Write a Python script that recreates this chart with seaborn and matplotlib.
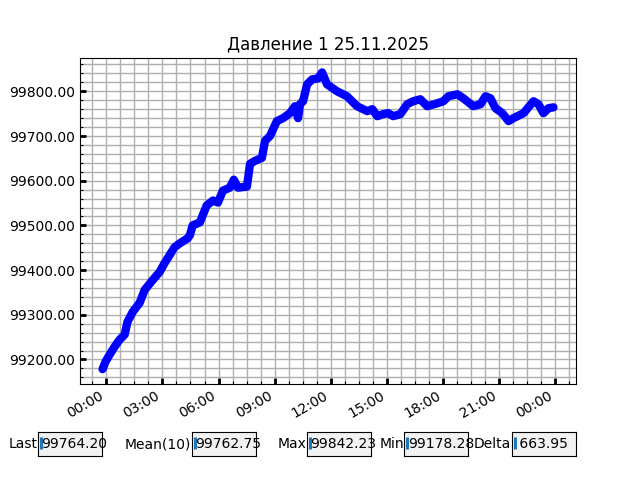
import numpy as np
import pandas as pd
import matplotlib
matplotlib.use("Agg")
import matplotlib.pyplot as plt
import matplotlib.dates as mdates
from matplotlib.ticker import MultipleLocator, FormatStrFormatter
from matplotlib.widgets import TextBox
import seaborn as sns

title = "Давление 1 25.11.2025"
day_start = "2025-11-25 00:00"

# minutes relative to 25.11.2025 00:00
minutes = [-12, -2, 11, 27, 43, 59, 68, 85, 107, 123, 149, 171, 187, 203, 219,
           236, 261, 268, 277, 300, 322, 342, 358, 374, 396, 409, 422, 451, 461,
           477, 499, 509, 525, 547, 567, 589, 605, 615, 621, 631, 644, 660, 679,
           692, 708, 740, 772, 804, 837, 853, 869, 888, 904, 920, 943, 965, 984,
           1007, 1029, 1062, 1081, 1097, 1126, 1145, 1177, 1200, 1216, 1232,
           1248, 1270, 1290, 1306, 1338, 1370, 1386, 1402, 1418, 1434]

pressure = [99178.28, 99195.6, 99211.1, 99228.9, 99244.4, 99255.6, 99284.4,
            99306.7, 99326.7, 99355.6, 99377.8, 99395.6, 99415.6, 99433.3,
            99451.1, 99460.0, 99471.1, 99477.8, 99500.0, 99506.7, 99544.4,
            99555.6, 99551.1, 99577.8, 99584.4, 99602.2, 99584.4, 99586.7,
            99637.8, 99644.4, 99651.1, 99688.9, 99700.0, 99733.3, 99740.0,
            99751.1, 99766.7, 99740.0, 99771.1, 99777.8, 99815.6, 99826.7,
            99828.9, 99842.23, 99815.6, 99800.0, 99788.9, 99766.7, 99755.6,
            99760.0, 99744.4, 99748.9, 99751.1, 99744.4, 99748.9, 99771.1,
            99777.8, 99782.2, 99766.7, 99773.3, 99777.8, 99788.9, 99793.3,
            99784.4, 99766.7, 99771.1, 99788.9, 99784.4, 99762.2, 99751.1,
            99733.3, 99740.0, 99751.1, 99777.8, 99771.1, 99751.1, 99762.2,
            99764.2]

box_labels = ["Last", "Mean(10)", "Max", "Min", "Delta"]
box_values = ["99764.20", "99762.75", "99842.23", "99178.28", " 663.95"]
box_lefts = [0.06, 0.30, 0.48, 0.632, 0.80]

times = pd.Timestamp(day_start) + pd.to_timedelta(minutes, unit="min")
df = pd.DataFrame({"time": times, "pressure": pressure})

fig = plt.figure(figsize=(6.4, 4.8), dpi=100)
ax = fig.add_axes([0.125, 0.2, 0.775, 0.68])

sns.lineplot(data=df, x="time", y="pressure", ax=ax, color="blue",
             linewidth=6, solid_capstyle="round", solid_joinstyle="round",
             sort=False)
ax.set_xlabel("")
ax.set_ylabel("")
ax.set_title(title)

ax.xaxis.set_major_locator(MultipleLocator(0.125))
ax.xaxis.set_minor_locator(MultipleLocator(1 / 32))
ax.xaxis.set_major_formatter(mdates.DateFormatter("%H:%M"))
ax.yaxis.set_major_locator(MultipleLocator(100))
ax.yaxis.set_minor_locator(MultipleLocator(20))
ax.yaxis.set_major_formatter(FormatStrFormatter("%.2f"))

ax.grid(True, which="both", color="#b0b0b0", linewidth=1)
ax.set_axisbelow(True)
ax.tick_params(which="major", direction="in", length=4, width=2)
ax.tick_params(which="minor", direction="in", length=2, width=0.8)
for lbl in ax.get_xticklabels():
    lbl.set_rotation(30)
    lbl.set_ha("right")

boxes = []
for lab, val, left in zip(box_labels, box_values, box_lefts):
    bax = fig.add_axes([left, 0.05, 0.1, 0.05])
    tb = TextBox(bax, lab, initial=val)
    bax.axvline(0.045, 0.3, 0.8, color="#1f77b4", linewidth=2.2,
                solid_capstyle="butt")
    boxes.append(tb)

fig.savefig("out.png", dpi=100)
